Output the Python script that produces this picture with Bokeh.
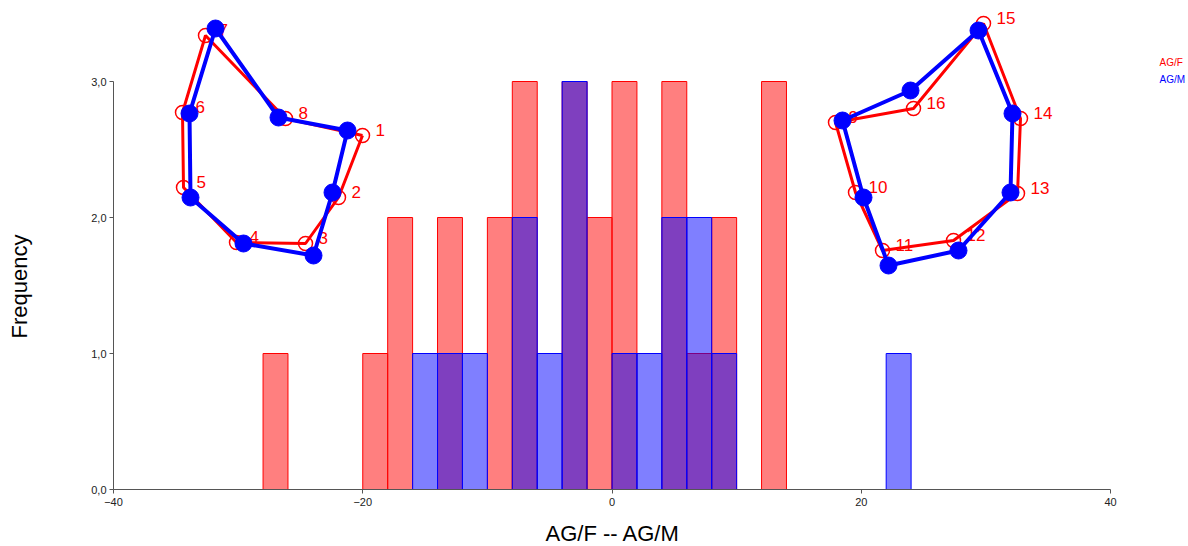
from bokeh.plotting import figure
from bokeh.models import Range1d, FixedTicker, Title, LinearAxis
from bokeh.core.properties import value
from bokeh.embed import file_html
from bokeh.resources import INLINE

# ---- histogram data (bin width 2) ----
bin_left = [-28, -26, -24, -22, -20, -18, -16, -14, -12, -10, -8, -6, -4, -2,
            0, 2, 4, 6, 8, 10, 12, 14, 16, 18, 20, 22]
count_f = [1, 0, 0, 0, 1, 2, 0, 2, 0, 2, 3, 0, 3, 2,
           3, 0, 3, 1, 2, 0, 3, 0, 0, 0, 0, 0]
count_m = [0, 0, 0, 0, 0, 0, 1, 1, 1, 0, 2, 1, 3, 0,
           1, 1, 2, 2, 1, 0, 0, 0, 0, 0, 0, 1]
bin_width = 2

x_ticks = [-40, -20, 0, 20, 40]
y_ticks = [0, 1, 2, 3]
y_tick_labels = ["0,0", "1,0", "2,0", "3,0"]

# ---- landmark shapes (inset coordinate system, px-like units) ----
lm_left_ids = ["1", "2", "3", "4", "5", "6", "7", "8"]
lm_left_f_x = [249, 225, 192, 123, 70, 69, 92, 172]
lm_left_f_y = [354, 292, 246, 247, 302, 377, 454, 371]
lm_left_m_x = [234, 219, 200, 130, 77, 76, 102, 165]
lm_left_m_y = [359, 297, 234, 246, 292, 376, 461, 372]

lm_right_ids = ["9", "10", "11", "12", "13", "14", "15", "16"]
lm_right_f_x = [722, 742, 769, 840, 904, 907, 870, 800]
lm_right_f_y = [367, 297, 239, 249, 296, 371, 466, 381]
lm_right_m_x = [729, 750, 775, 845, 897, 899, 865, 797]
lm_right_m_y = [369, 292, 224, 239, 297, 376, 459, 399]

legend_names = ["AG/F", "AG/M"]
legend_x = [1046, 1046]
legend_y = [427, 410]

FONT = "Liberation Sans"
RED = "#ff0000"
BLUE = "#0000ff"

W, H = 1188, 546
LEFT, TOP, BOTTOM = 113, 10, 57
FRAME_W = W - LEFT
FRAME_H = H - TOP - BOTTOM
PX_PER_X = 997 / 80.0
PX_PER_Y = 136.0

p = figure(width=W, height=H, output_backend="svg", toolbar_location=None,
           x_range=Range1d(-40, -40 + FRAME_W / PX_PER_X),
           y_range=Range1d(0, FRAME_H / PX_PER_Y),
           min_border_left=LEFT, min_border_right=0, min_border_top=TOP,
           min_border_bottom=BOTTOM, title=None)
p.extra_x_ranges = {"sx": Range1d(0, FRAME_W)}
p.extra_y_ranges = {"sy": Range1d(0, FRAME_H)}

p.grid.visible = False
p.outline_line_color = None

# bars
def bars(counts, color):
    lefts = [b for b, c in zip(bin_left, counts) if c > 0]
    rights = [b + bin_width for b, c in zip(bin_left, counts) if c > 0]
    tops = [c for c in counts if c > 0]
    p.quad(left=lefts, right=rights, bottom=0, top=tops,
           fill_color=color, fill_alpha=0.5, line_color=color, line_width=1)

bars(count_f, RED)
bars(count_m, BLUE)

# axes
for ax in (p.xaxis[0], p.yaxis[0]):
    ax.axis_line_color = "#555555"
    ax.major_tick_line_color = "#555555"
    ax.minor_tick_line_color = None
    ax.major_tick_in = 0
    ax.major_tick_out = 4
    ax.major_label_text_font = FONT
    ax.major_label_text_font_size = "11px"
    ax.major_label_text_color = "#222222"

p.xaxis.ticker = FixedTicker(ticks=x_ticks)
p.xaxis.bounds = (-40, 40)
p.xaxis.major_label_standoff = 4

p.yaxis.ticker = FixedTicker(ticks=y_ticks)
p.yaxis.major_label_overrides = {t: s for t, s in zip(y_ticks, y_tick_labels)}
p.yaxis.bounds = (0, 3)
p.yaxis.major_label_standoff = 3

# blank spacer axes (one white tick in an empty corner, no label)
# that push the axis titles outward
def spacer(gap, tick):
    return LinearAxis(ticker=FixedTicker(ticks=[tick]), major_tick_in=0,
                      major_tick_out=gap, major_label_standoff=0,
                      major_label_overrides={tick: ""},
                      major_label_text_font_size="1px",
                      axis_line_color=None, major_tick_line_color="#ffffff",
                      minor_tick_line_color=None, minor_tick_out=0)

p.add_layout(spacer(50, 3.45), "left")
p.add_layout(spacer(10, 45), "below")

# axis titles, centred on the bounded axis lines
p.add_layout(Title(text="AG/F -- AG/M", align="left", offset=432,
                   text_font=FONT, text_font_size="22px",
                   text_font_style="normal", text_color="#000000",
                   standoff=0), "below")
p.add_layout(Title(text="Frequency", align="left", offset=151,
                   vertical_align="top",
                   text_font=FONT, text_font_size="22px",
                   text_font_style="normal", text_color="#000000",
                   standoff=10), "left")

# landmark shapes
def shape(ids, fx, fy, mx, my):
    p.line(fx + fx[:1], fy + fy[:1], line_color=RED, line_width=3,
           x_range_name="sx", y_range_name="sy")
    p.scatter(fx, fy, marker="circle", size=14, fill_color=None, line_color=RED,
              line_width=1.5, x_range_name="sx", y_range_name="sy")
    p.text(fx, fy, text=ids, text_color=RED, text_font=value(FONT),
           text_font_size="17px", text_align="left", text_baseline="middle",
           x_offset=13, y_offset=-6, x_range_name="sx", y_range_name="sy")
    p.line(mx + mx[:1], my + my[:1], line_color=BLUE, line_width=4,
           x_range_name="sx", y_range_name="sy")
    p.scatter(mx, my, marker="circle", size=17, fill_color=BLUE, line_color=BLUE,
              x_range_name="sx", y_range_name="sy")

shape(lm_left_ids, lm_left_f_x, lm_left_f_y, lm_left_m_x, lm_left_m_y)
shape(lm_right_ids, lm_right_f_x, lm_right_f_y, lm_right_m_x, lm_right_m_y)

# legend texts
p.text(legend_x, legend_y, text=legend_names, text_color=[RED, BLUE],
       text_font=value(FONT), text_font_size="10px", text_align="left",
       text_baseline="middle", x_range_name="sx", y_range_name="sy")

open("out.html", "w").write(file_html(p, INLINE))
